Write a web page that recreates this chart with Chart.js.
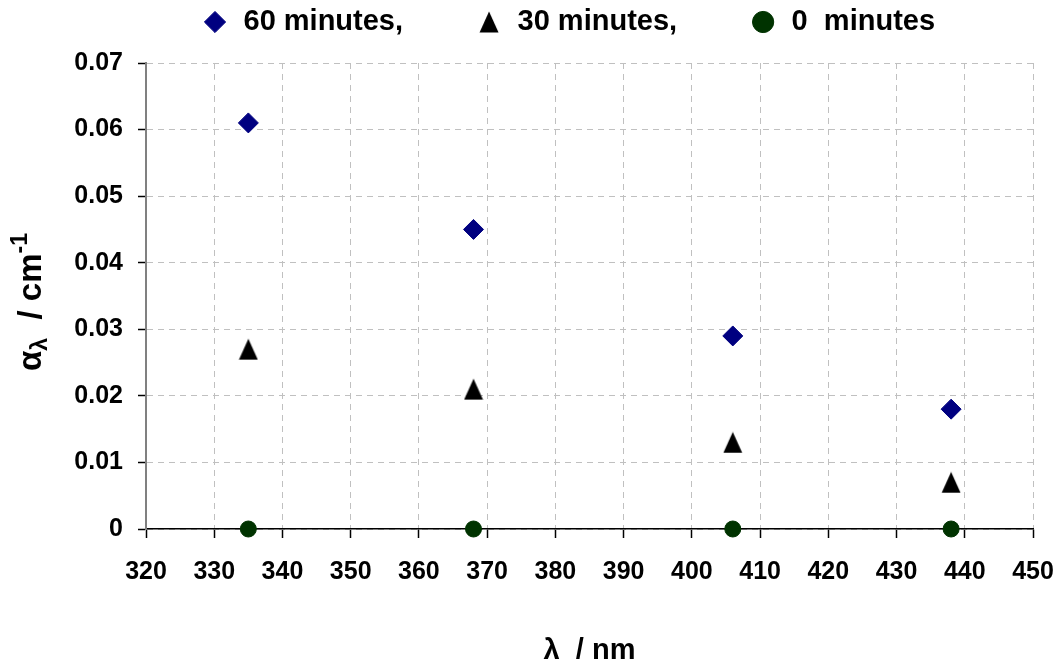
<!DOCTYPE html>
<html>
<head>
<meta charset="utf-8">
<script src="https://cdn.jsdelivr.net/npm/chart.js@4.4.1/dist/chart.umd.min.js"></script>
<style>
  html, body { margin: 0; padding: 0; background: #fff; }
  #wrap { width: 1058px; height: 664px; }
</style>
</head>
<body>
<div id="wrap"><canvas id="absChart" aria-label="absorption coefficient chart" role="img"></canvas></div>
<script>
// data
const wavelengths = [335, 368, 406, 438];
const alpha60 = [0.061, 0.045, 0.029, 0.018];
const alpha30 = [0.027, 0.021, 0.013, 0.007];
const alpha0 = [0, 0, 0, 0];
const seriesLabels = ['60 minutes,', '30 minutes,', '0  minutes'];
const xTickLabels = ['320', '330', '340', '350', '360', '370', '380', '390', '400', '410', '420', '430', '440', '450'];
const yTickLabels = ['0', '0.01', '0.02', '0.03', '0.04', '0.05', '0.06', '0.07'];

const FONT = "'Liberation Sans', Arial, sans-serif";
const LEGEND_FONT = 29;
const LEGEND_GAP = 72;

// tall triangle marker like the spreadsheet one
const triangle = document.createElement('canvas');
triangle.width = 20;
triangle.height = 22;
(() => {
  const c = triangle.getContext('2d');
  c.fillStyle = '#000';
  c.beginPath();
  c.moveTo(10, 0.5);
  c.lineTo(19.5, 21.5);
  c.lineTo(0.5, 21.5);
  c.closePath();
  c.fill();
})();

const toPoints = (ys) => wavelengths.map((x, i) => ({ x: x, y: ys[i] }));

// y title with subscript / superscript
const alphaTitle = {
  id: 'alphaTitle',
  afterDraw(chart) {
    const ctx = chart.ctx;
    const main = 'bold 33px ' + FONT;
    const small = 'bold 23px ' + FONT;
    const parts = [
      { text: 'α', font: main, dy: 0 },
      { text: 'λ', font: small, dy: 6 },
      { text: '  / cm', font: main, dy: 0 },
      { text: '-1', font: small, dy: -14 },
    ];
    ctx.save();
    let total = 0;
    parts.forEach(p => { ctx.font = p.font; p.w = ctx.measureText(p.text).width; total += p.w; });
    ctx.translate(41, 302);
    ctx.rotate(-Math.PI / 2);
    ctx.fillStyle = '#000';
    ctx.textBaseline = 'alphabetic';
    let x = -total / 2;
    parts.forEach(p => { ctx.font = p.font; ctx.fillText(p.text, x, p.dy); x += p.w; });
    ctx.restore();
  }
};

// legend: fixed band height, items start at a fixed x
const legendPlace = {
  id: 'legendPlace',
  beforeLayout(chart) {
    const lg = chart.legend;
    if (lg && !lg._patched) {
      const fit = lg.fit;
      lg.fit = function () { fit.call(this); this.height = 63; };
      lg._patched = true;
    }
  },
  afterLayout(chart) {
    const lg = chart.legend;
    lg.top = 22 - LEGEND_GAP - LEGEND_FONT / 2;
    lg.left = 201 - LEGEND_GAP;
    lg.right = 1058;
  }
};

new Chart(document.getElementById('absChart'), {
  type: 'scatter',
  data: {
    datasets: [
      {
        label: seriesLabels[0],
        data: toPoints(alpha60),
        pointStyle: 'rectRot',
        pointRadius: 10,
        pointHoverRadius: 10,
        backgroundColor: '#000080',
        borderColor: '#000080',
        borderWidth: 1,
        clip: false,
      },
      {
        label: seriesLabels[1],
        data: toPoints(alpha30),
        pointStyle: triangle,
        backgroundColor: '#000',
        borderColor: '#000',
        clip: false,
      },
      {
        label: seriesLabels[2],
        data: toPoints(alpha0),
        pointStyle: 'circle',
        pointRadius: 8,
        pointHoverRadius: 8,
        backgroundColor: '#003300',
        borderColor: '#003300',
        borderWidth: 1,
        clip: false,
      },
    ],
  },
  options: {
    responsive: true,
    maintainAspectRatio: false,
    animation: false,
    layout: { padding: { left: 0, right: 25, top: 0, bottom: 0 } },
    plugins: {
      tooltip: { enabled: false },
      legend: {
        position: 'top',
        align: 'start',
        labels: {
          usePointStyle: true,
          boxWidth: 28,
          boxHeight: 15,
          padding: LEGEND_GAP,
          color: '#000',
          font: { family: FONT, size: LEGEND_FONT, weight: 'bold' },
        },
      },
    },
    scales: {
      x: {
        type: 'linear',
        min: 320,
        max: 450,
        afterFit: (scale) => {
          scale.height = 135;
          scale.paddingLeft = 0;
          scale.paddingRight = 0;
        },
        ticks: {
          stepSize: 10,
          padding: 19,
          color: '#000',
          font: { family: FONT, size: 25, weight: 'bold' },
          callback: (v, i) => xTickLabels[i],
        },
        grid: {
          color: '#c0c0c0',
          lineWidth: 1,
          tickLength: 9,
          tickColor: '#000',
          tickWidth: 1.5,
        },
        border: { display: true, color: '#000', width: 1.5, dash: [6, 5] },
        title: {
          display: true,
          text: 'λ  / nm',
          color: '#000',
          padding: { top: 0, bottom: -4 },
          font: { family: FONT, size: 29, weight: 'bold' },
        },
      },
      y: {
        type: 'linear',
        min: 0,
        max: 0.07,
        afterFit: (scale) => {
          scale.width = 146;
          scale.paddingTop = 0;
          scale.paddingBottom = 0;
        },
        ticks: {
          stepSize: 0.01,
          padding: 15,
          color: '#000',
          font: { family: FONT, size: 25, weight: 'bold' },
          callback: (v, i) => yTickLabels[i],
        },
        grid: {
          color: '#c0c0c0',
          lineWidth: 1,
          tickLength: 8,
          tickColor: '#000',
          tickWidth: 1.5,
        },
        border: { display: true, color: '#808080', width: 2, dash: [6, 5] },
      },
    },
  },
  plugins: [legendPlace, alphaTitle],
});
</script>
</body>
</html>
